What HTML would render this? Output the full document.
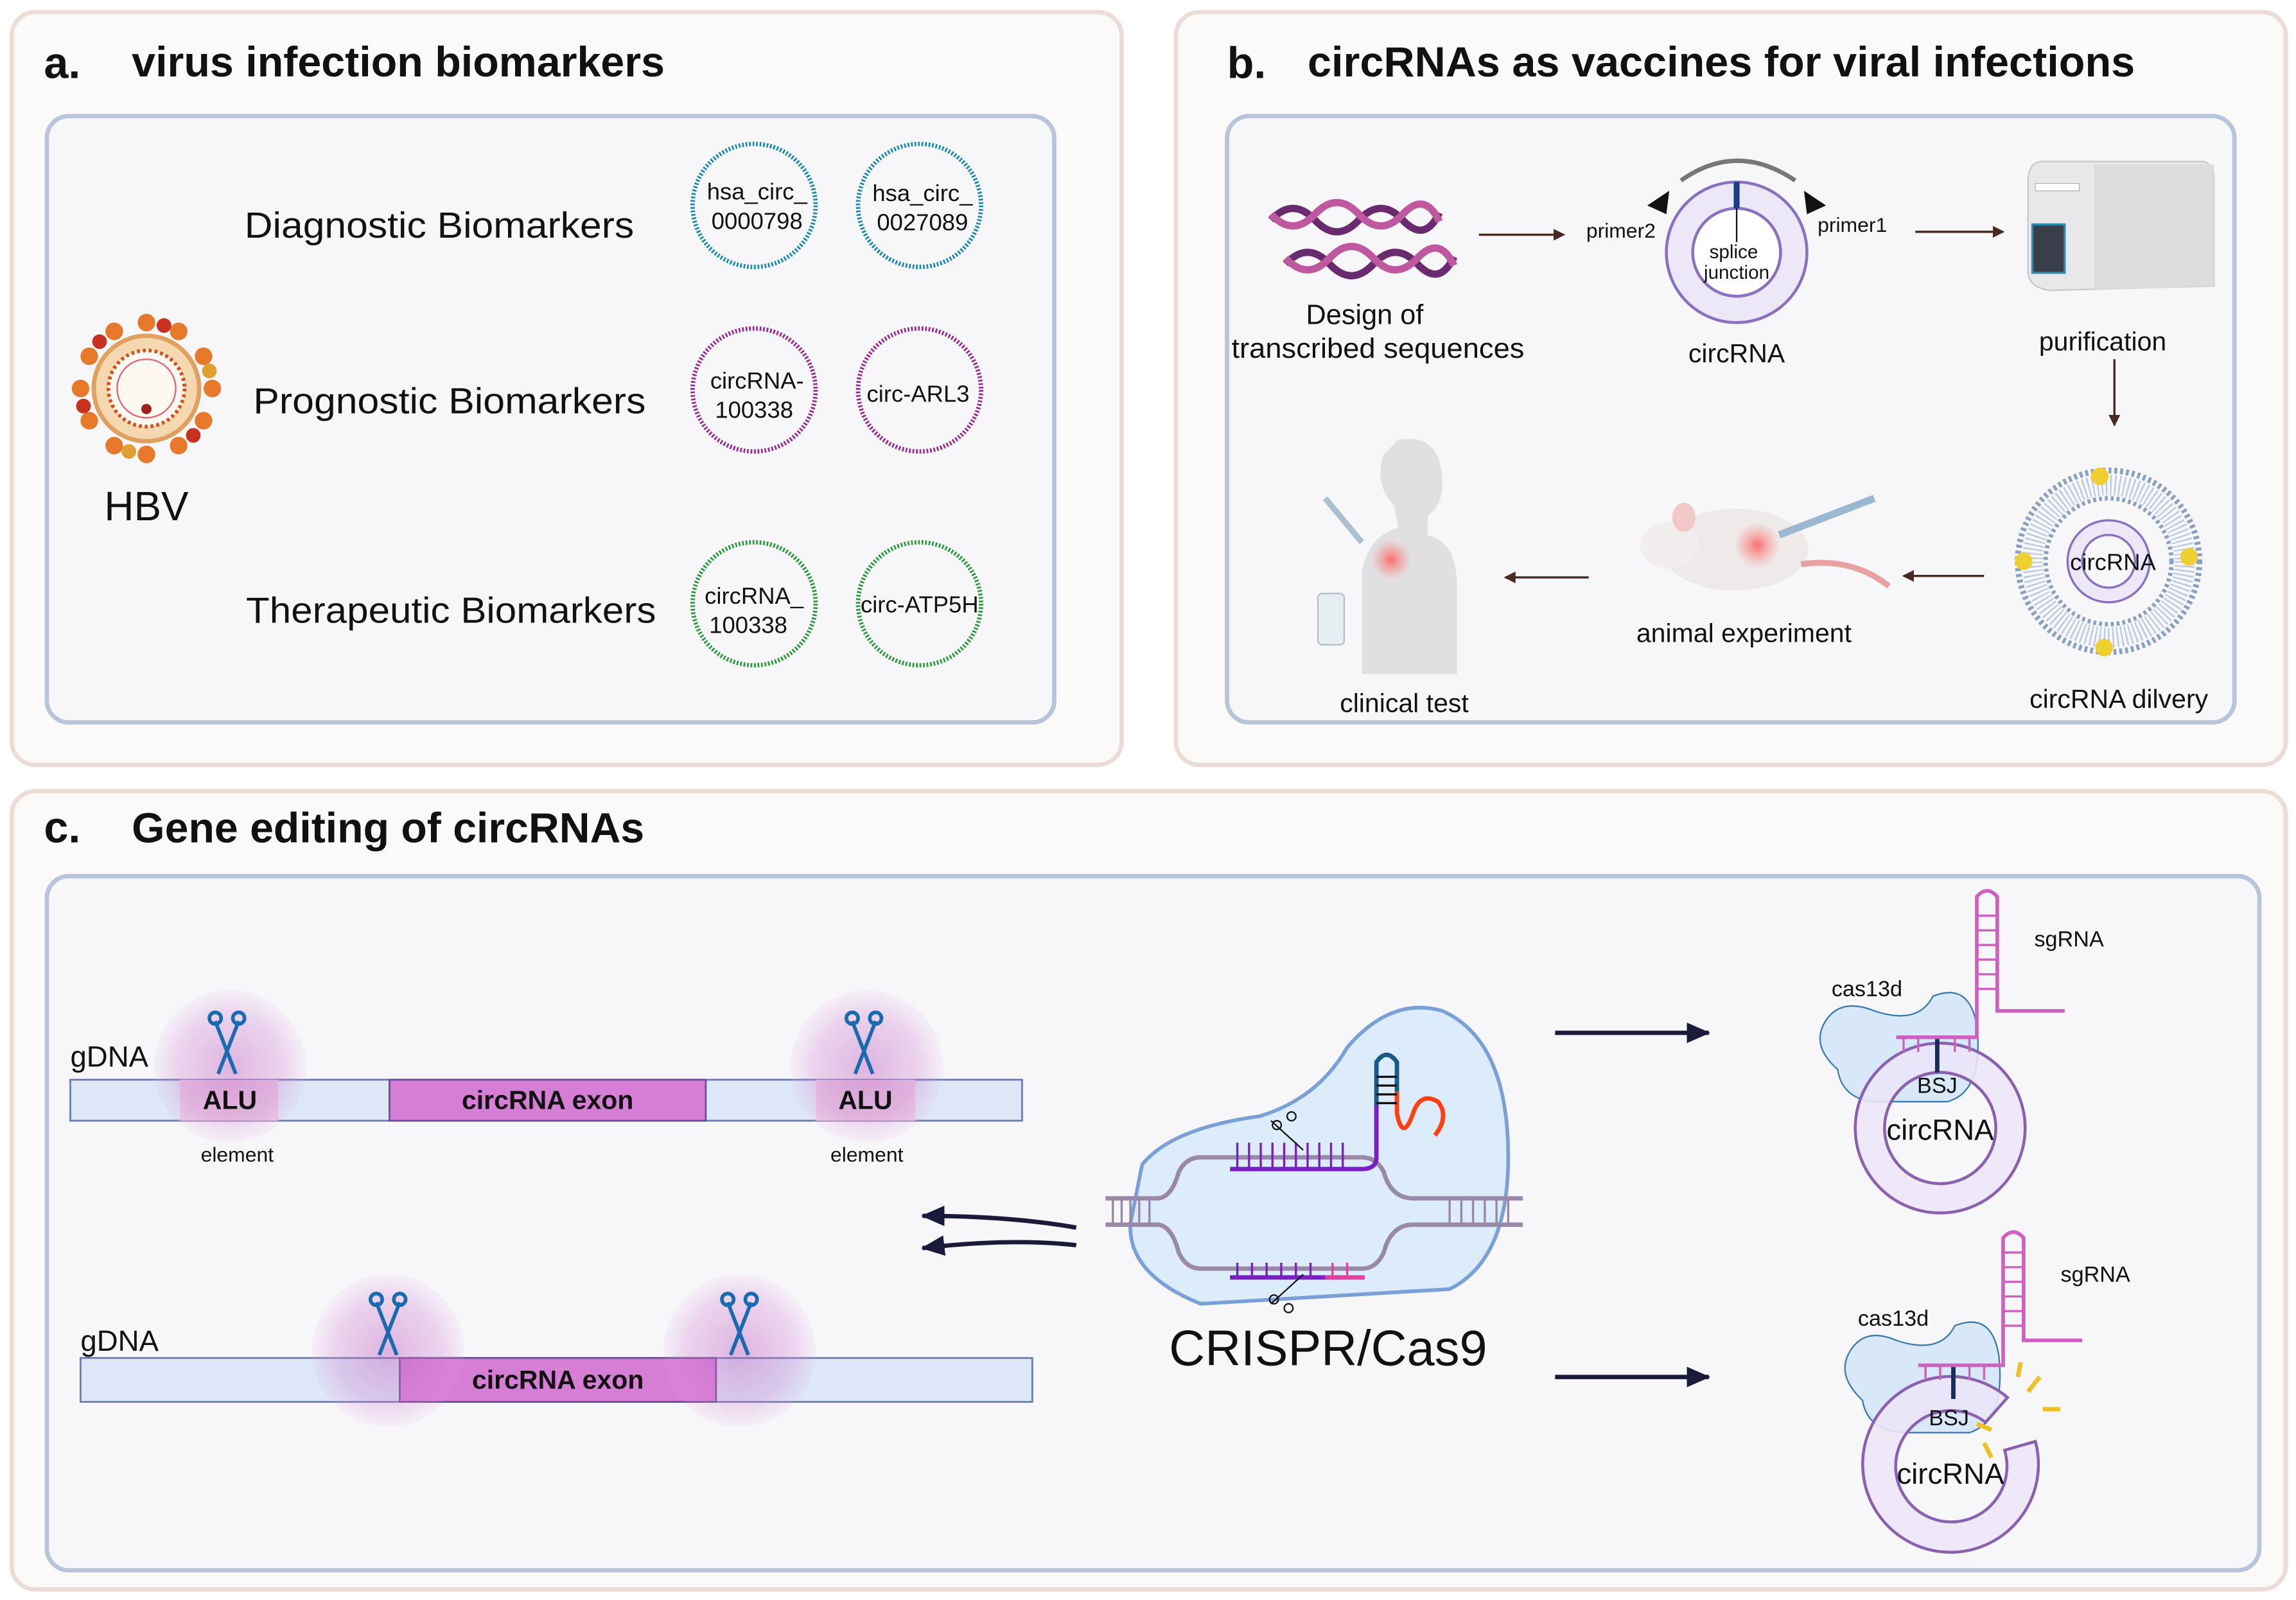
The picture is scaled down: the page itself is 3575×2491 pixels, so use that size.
<!DOCTYPE html>
<html><head><meta charset="utf-8"><style>
html,body{margin:0;padding:0;background:#fff}
svg{display:block}
text{font-family:"Liberation Sans",sans-serif;fill:#111}
</style></head><body>
<svg width="3575" height="2491" viewBox="0 0 1568 1092" xmlns="http://www.w3.org/2000/svg">
<defs>
<radialGradient id="glow"><stop offset="0" stop-color="#c060c0" stop-opacity="0.45"/><stop offset="0.7" stop-color="#d080d0" stop-opacity="0.3"/><stop offset="1" stop-color="#e0a0e0" stop-opacity="0.1"/></radialGradient>
<radialGradient id="red"><stop offset="0" stop-color="#ff5050" stop-opacity="0.8"/><stop offset="1" stop-color="#ff8080" stop-opacity="0"/></radialGradient>
<marker id="ab" markerWidth="8" markerHeight="8" refX="7" refY="4" orient="auto" markerUnits="userSpaceOnUse"><path d="M0,0 L8,4 L0,8z" fill="#4a2a20"/></marker>
<marker id="an" markerWidth="16" markerHeight="14" refX="15" refY="7" orient="auto" markerUnits="userSpaceOnUse"><path d="M0,0 L16,7 L0,14z" fill="#1a1a3a"/></marker>
</defs>
<rect width="1568" height="1092" fill="#fff"/>
<!-- panel a -->
<rect x="8" y="8" width="758" height="514" rx="16" fill="#fcfaf9" stroke="#ecdcd8" stroke-width="3"/>
<rect x="32" y="79" width="688" height="414" rx="15" fill="#f7f7fa" stroke="#b8c4dc" stroke-width="3"/>
<text x="30" y="53" font-size="30" font-weight="bold">a.</text>
<text x="90" y="52" font-size="29" font-weight="bold" textLength="364" lengthAdjust="spacingAndGlyphs">virus infection biomarkers</text>
<text x="300" y="162" font-size="25" text-anchor="middle" textLength="266" lengthAdjust="spacingAndGlyphs">Diagnostic Biomarkers</text>
<text x="307" y="282" font-size="25" text-anchor="middle" textLength="268" lengthAdjust="spacingAndGlyphs">Prognostic Biomarkers</text>
<text x="308" y="425" font-size="25" text-anchor="middle" textLength="280" lengthAdjust="spacingAndGlyphs">Therapeutic Biomarkers</text>
<g fill="#f7f7fa" stroke-width="3" stroke-dasharray="1.2 1.2">
<circle cx="515" cy="140" r="42" stroke="#1a8ab0"/><circle cx="628" cy="140" r="42" stroke="#1a8ab0"/>
<circle cx="515" cy="266" r="42" stroke="#9a2a90"/><circle cx="628" cy="266" r="42" stroke="#9a2a90"/>
<circle cx="515" cy="412" r="42" stroke="#2a9a3a"/><circle cx="628" cy="412" r="42" stroke="#2a9a3a"/>
</g>
<g font-size="16" text-anchor="middle">
<text x="517" y="136">hsa_circ_</text><text x="517" y="156">0000798</text>
<text x="630" y="137">hsa_circ_</text><text x="630" y="157">0027089</text>
<text x="517" y="265">circRNA-</text><text x="515" y="285">100338</text>
<text x="627" y="274">circ-ARL3</text>
<text x="515" y="412">circRNA_</text><text x="511" y="432">100338</text>
<text x="628" y="418">circ-ATP5H</text>
</g>
<!-- HBV -->
<g transform="translate(100,265)">
<g fill="#e8782a">
<circle cx="0" cy="-45" r="6"/><circle cx="22" cy="-39" r="6"/><circle cx="39" cy="-22" r="6"/><circle cx="45" cy="0" r="6"/><circle cx="39" cy="22" r="6"/><circle cx="22" cy="39" r="6"/><circle cx="0" cy="45" r="6"/><circle cx="-22" cy="39" r="6"/><circle cx="-39" cy="22" r="6"/><circle cx="-45" cy="0" r="6"/><circle cx="-39" cy="-22" r="6"/><circle cx="-22" cy="-39" r="6"/>
<circle cx="12" cy="-43" r="5" fill="#c83020"/><circle cx="43" cy="-12" r="5" fill="#e0a030"/><circle cx="-43" cy="12" r="5" fill="#c83020"/><circle cx="-12" cy="43" r="5" fill="#e0a030"/><circle cx="32" cy="32" r="5" fill="#c83020"/><circle cx="-32" cy="-32" r="5" fill="#c83020"/>
</g>
<circle r="36" fill="#f6d8b0" stroke="#e0a060" stroke-width="3"/>
<circle r="26" fill="#fdf8f0" stroke="#d05020" stroke-width="2.5" stroke-dasharray="2 2"/>
<circle r="20" fill="none" stroke="#e06080" stroke-width="1"/>
<circle cx="0" cy="14" r="3.5" fill="#a02020"/>
</g>
<text x="100" y="355" font-size="28" text-anchor="middle">HBV</text>

<!-- panel b -->
<rect x="803" y="8" width="758" height="514" rx="16" fill="#fcfaf9" stroke="#ecdcd8" stroke-width="3"/>
<rect x="838" y="79" width="688" height="414" rx="15" fill="#f7f7fa" stroke="#b8c4dc" stroke-width="3"/>
<text x="838" y="53" font-size="30" font-weight="bold">b.</text>
<text x="893" y="52" font-size="29" font-weight="bold" textLength="565" lengthAdjust="spacingAndGlyphs">circRNAs as vaccines for viral infections</text>
<g fill="none" stroke-width="5">
<path d="M868,150 q15,-16 30,0 t30,0 t30,0 t25,-5" stroke="#6a2a70"/>
<path d="M868,146 q15,16 30,0 t30,0 t30,0 t25,5" stroke="#c058a0"/>
<path d="M878,180 q15,-16 30,0 t30,0 t30,0 t25,-5" stroke="#6a2a70"/>
<path d="M878,176 q15,16 30,0 t30,0 t30,0 t25,5" stroke="#c058a0"/>
</g>
<text x="932" y="221" font-size="19" text-anchor="middle">Design of</text>
<text x="941" y="244" font-size="19" text-anchor="middle" textLength="200" lengthAdjust="spacingAndGlyphs">transcribed sequences</text>
<g stroke="#4a2a20" stroke-width="1.5" marker-end="url(#ab)">
<line x1="1010" y1="160" x2="1068" y2="160"/>
<line x1="1308" y1="158" x2="1368" y2="158"/>
<line x1="1444" y1="245" x2="1444" y2="290"/>
<line x1="1355" y1="393" x2="1300" y2="393"/>
<line x1="1085" y1="394" x2="1028" y2="394"/>
</g>
<circle cx="1186" cy="172" r="39" fill="none" stroke="#ece8f8" stroke-width="18"/>
<circle cx="1186" cy="172" r="48" fill="none" stroke="#8a70c0" stroke-width="2"/>
<circle cx="1186" cy="172" r="30" fill="#fff" stroke="#8a70c0" stroke-width="2"/>
<line x1="1186" y1="124" x2="1186" y2="142" stroke="#1a3a8a" stroke-width="4"/>
<line x1="1186" y1="142" x2="1186" y2="165" stroke="#111" stroke-width="1"/>
<path d="M1148,123 Q1186,96 1226,123" fill="none" stroke="#777" stroke-width="3"/>
<path d="M1125,140 L1140,130 L1138,146z" fill="#111"/><path d="M1247,140 L1232,130 L1234,146z" fill="#111"/>
<text x="1107" y="162" font-size="14" text-anchor="middle">primer2</text>
<text x="1265" y="158" font-size="14" text-anchor="middle">primer1</text>
<text x="1184" y="176" font-size="13" text-anchor="middle">splice</text>
<text x="1186" y="190" font-size="13" text-anchor="middle">junction</text>
<text x="1186" y="247" font-size="18" text-anchor="middle">circRNA</text>
<!-- machine -->
<path d="M1395,110 L1505,110 Q1512,112 1512,122 L1512,195 L1400,198 Q1385,196 1385,185 L1385,122 Q1386,110 1395,110z" fill="#e8e8ea" stroke="#c8c8cc"/>
<path d="M1430,112 L1512,112 L1512,195 L1430,198z" fill="#dcdcdf"/>
<rect x="1388" y="153" width="22" height="33" fill="#3a3e48" stroke="#2a8ab0" stroke-width="1.5"/>
<rect x="1390" y="125" width="30" height="5" fill="#fff" stroke="#aaa" stroke-width="0.5"/>
<text x="1436" y="239" font-size="18" text-anchor="middle">purification</text>
<!-- LNP -->
<circle cx="1440" cy="383" r="62" fill="none" stroke="#8aa0c0" stroke-width="4" stroke-dasharray="2 2"/>
<circle cx="1440" cy="383" r="52" fill="none" stroke="#b8c8e0" stroke-width="14" stroke-dasharray="1 2"/>
<circle cx="1440" cy="383" r="43" fill="none" stroke="#8aa0c0" stroke-width="3" stroke-dasharray="2 2"/>
<circle cx="1440" cy="383" r="28" fill="#ece8f8" stroke="#8a70c0" stroke-width="1.5"/>
<circle cx="1440" cy="383" r="18" fill="#f7f7fa" stroke="#8a70c0" stroke-width="1.5"/>
<g fill="#f0d030"><circle cx="1434" cy="325" r="6"/><circle cx="1437" cy="442" r="6"/><circle cx="1382" cy="383" r="6"/><circle cx="1495" cy="380" r="6"/></g>
<text x="1443" y="389" font-size="16" text-anchor="middle">circRNA</text>
<text x="1447" y="483" font-size="18" text-anchor="middle">circRNA dilvery</text>
<!-- mouse -->
<ellipse cx="1185" cy="375" rx="50" ry="28" fill="#eeeaea"/>
<ellipse cx="1140" cy="372" rx="20" ry="16" fill="#f2eeee"/>
<ellipse cx="1150" cy="353" rx="8" ry="10" fill="#f0c8c8"/>
<circle cx="1200" cy="372" r="16" fill="url(#red)"/>
<path d="M1230,385 Q1265,380 1290,400" fill="none" stroke="#e8a0a0" stroke-width="4"/>
<line x1="1215" y1="365" x2="1280" y2="340" stroke="#9ab8d0" stroke-width="5"/>
<text x="1191" y="438" font-size="18" text-anchor="middle">animal experiment</text>
<!-- human -->
<path d="M955,300 Q985,295 985,330 Q985,345 975,352 L975,365 Q995,370 995,400 L995,460 L930,460 L930,390 Q935,365 955,360 L952,345 Q938,330 945,310z" fill="#e0e0e2"/>
<circle cx="950" cy="382" r="14" fill="url(#red)"/>
<line x1="905" y1="340" x2="930" y2="370" stroke="#aac0d0" stroke-width="4"/>
<rect x="900" y="405" width="18" height="35" rx="3" fill="#e6eef2" stroke="#b0c0c8"/>
<text x="959" y="486" font-size="18" text-anchor="middle">clinical test</text>

<!-- panel c -->
<rect x="8" y="540" width="1553" height="545" rx="16" fill="#fcfaf9" stroke="#ecdcd8" stroke-width="3"/>
<rect x="32" y="598" width="1511" height="474" rx="15" fill="#f7f7fa" stroke="#b8c4dc" stroke-width="3"/>
<text x="30" y="575" font-size="30" font-weight="bold">c.</text>
<text x="90" y="575" font-size="29" font-weight="bold" textLength="350" lengthAdjust="spacingAndGlyphs">Gene editing of circRNAs</text>
<!-- top gDNA -->
<rect x="48" y="737" width="650" height="28" fill="#dde7f7" stroke="#6a7ab0" stroke-width="1.2"/>
<rect x="266" y="737" width="216" height="28" fill="#d67ed6" stroke="#6a4a9a" stroke-width="1.2"/>
<rect x="123" y="737" width="67" height="28" fill="#e8c8e4"/>
<rect x="557" y="737" width="68" height="28" fill="#e8c8e4"/>
<circle cx="157" cy="728" r="52" fill="url(#glow)"/><circle cx="592" cy="728" r="52" fill="url(#glow)"/>
<text x="374" y="757" font-size="18" font-weight="bold" text-anchor="middle" fill="#5a1a6a">circRNA exon</text>
<text x="157" y="757" font-size="18" font-weight="bold" text-anchor="middle" fill="#6a3a7a">ALU</text>
<text x="591" y="757" font-size="18" font-weight="bold" text-anchor="middle" fill="#6a3a7a">ALU</text>
<text x="48" y="728" font-size="20">gDNA</text>
<text x="162" y="793" font-size="14" text-anchor="middle">element</text>
<text x="592" y="793" font-size="14" text-anchor="middle">element</text>
<!-- bottom gDNA -->
<rect x="55" y="927" width="650" height="30" fill="#dde7f7" stroke="#6a7ab0" stroke-width="1.2"/>
<rect x="273" y="927" width="216" height="30" fill="#d67ed6" stroke="#6a4a9a" stroke-width="1.2"/>
<circle cx="265" cy="922" r="52" fill="url(#glow)"/><circle cx="505" cy="922" r="52" fill="url(#glow)"/>
<text x="381" y="948" font-size="18" font-weight="bold" text-anchor="middle" fill="#5a1a6a">circRNA exon</text>
<text x="55" y="922" font-size="20">gDNA</text>
<!-- scissors -->
<g stroke="#1a6ab0" stroke-width="2.5" fill="none">
<g transform="translate(155,715)"><line x1="-8" y1="-18" x2="6" y2="18"/><line x1="8" y1="-18" x2="-6" y2="18"/><circle cx="-8" cy="-20" r="4"/><circle cx="8" cy="-20" r="4"/></g>
<g transform="translate(590,715)"><line x1="-8" y1="-18" x2="6" y2="18"/><line x1="8" y1="-18" x2="-6" y2="18"/><circle cx="-8" cy="-20" r="4"/><circle cx="8" cy="-20" r="4"/></g>
<g transform="translate(265,907)"><line x1="-8" y1="-18" x2="6" y2="18"/><line x1="8" y1="-18" x2="-6" y2="18"/><circle cx="-8" cy="-20" r="4"/><circle cx="8" cy="-20" r="4"/></g>
<g transform="translate(505,907)"><line x1="-8" y1="-18" x2="6" y2="18"/><line x1="8" y1="-18" x2="-6" y2="18"/><circle cx="-8" cy="-20" r="4"/><circle cx="8" cy="-20" r="4"/></g>
</g>
<!-- double arrow -->
<path d="M735,838 Q690,830 630,830" fill="none" stroke="#1a1a3a" stroke-width="3" marker-end="url(#an)"/>
<path d="M735,850 Q690,845 630,852" fill="none" stroke="#1a1a3a" stroke-width="3" marker-end="url(#an)"/>
<!-- CRISPR blob -->
<path d="M780,795 Q800,770 860,762 Q900,750 920,715 Q950,680 985,690 Q1030,710 1030,790 Q1030,860 990,880 L820,890 Q770,870 772,835z" fill="#dcecfb" stroke="#7aa0d8" stroke-width="2.5"/>
<path d="M755,818 L790,818 Q800,818 805,800 Q810,790 820,790 L930,790 Q940,790 945,800 Q950,818 965,818 L1040,818" fill="none" stroke="#9a88a8" stroke-width="3"/>
<path d="M755,836 L790,836 Q800,836 805,855 Q810,866 820,866 L930,866 Q940,866 945,855 Q950,836 965,836 L1040,836" fill="none" stroke="#9a88a8" stroke-width="3"/>
<g stroke="#9a88a8" stroke-width="1.5"><line x1="760" y1="818" x2="760" y2="836"/><line x1="766" y1="818" x2="766" y2="836"/><line x1="772" y1="818" x2="772" y2="836"/><line x1="778" y1="818" x2="778" y2="836"/><line x1="785" y1="818" x2="785" y2="836"/><line x1="990" y1="818" x2="990" y2="836"/><line x1="998" y1="818" x2="998" y2="836"/><line x1="1006" y1="818" x2="1006" y2="836"/><line x1="1014" y1="818" x2="1014" y2="836"/><line x1="1022" y1="818" x2="1022" y2="836"/><line x1="1030" y1="818" x2="1030" y2="836"/></g>
<path d="M840,798 L930,798 Q940,798 940,790 L940,755" fill="none" stroke="#7a20c0" stroke-width="3"/>
<g stroke="#7a20c0" stroke-width="1.5"><line x1="845" y1="780" x2="845" y2="798"/><line x1="853" y1="780" x2="853" y2="798"/><line x1="861" y1="780" x2="861" y2="798"/><line x1="869" y1="780" x2="869" y2="798"/><line x1="877" y1="780" x2="877" y2="798"/><line x1="885" y1="780" x2="885" y2="798"/><line x1="893" y1="780" x2="893" y2="798"/><line x1="901" y1="780" x2="901" y2="798"/><line x1="909" y1="780" x2="909" y2="798"/><line x1="917" y1="780" x2="917" y2="798"/></g>
<path d="M840,872 L915,872" stroke="#7a20c0" stroke-width="3"/><path d="M905,872 L932,872" stroke="#e040a0" stroke-width="3"/>
<g stroke="#7a20c0" stroke-width="1.5"><line x1="845" y1="862" x2="845" y2="872"/><line x1="855" y1="862" x2="855" y2="872"/><line x1="865" y1="862" x2="865" y2="872"/><line x1="875" y1="862" x2="875" y2="872"/><line x1="885" y1="862" x2="885" y2="872"/><line x1="895" y1="862" x2="895" y2="872"/><line x1="910" y1="862" x2="910" y2="872" stroke="#e040a0"/><line x1="920" y1="862" x2="920" y2="872" stroke="#e040a0"/></g>
<path d="M940,755 L940,725 Q947,715 954,725 L954,755" fill="none" stroke="#1a5a8a" stroke-width="3"/>
<path d="M954,745 L954,760 Q958,780 965,760 Q970,745 982,752 Q990,762 980,775" fill="none" stroke="#ff4010" stroke-width="3"/>
<g stroke="#111" stroke-width="1.5"><line x1="940" y1="735" x2="954" y2="735"/><line x1="940" y1="741" x2="954" y2="741"/><line x1="940" y1="747" x2="954" y2="747"/><line x1="940" y1="753" x2="954" y2="753"/></g>
<g stroke="#111" stroke-width="1" fill="none"><line x1="868" y1="765" x2="890" y2="785"/><circle cx="872" cy="768" r="3"/><circle cx="882" cy="762" r="3"/><line x1="868" y1="890" x2="890" y2="870"/><circle cx="870" cy="887" r="3"/><circle cx="880" cy="893" r="3"/></g>
<text x="907" y="932" font-size="34" text-anchor="middle">CRISPR/Cas9</text>
<!-- right arrows -->
<line x1="1062" y1="705" x2="1167" y2="705" stroke="#1a1a3a" stroke-width="3" marker-end="url(#an)"/>
<line x1="1062" y1="940" x2="1167" y2="940" stroke="#1a1a3a" stroke-width="3" marker-end="url(#an)"/>
<!-- top circRNA -->
<path d="M1245,700 Q1255,680 1280,690 Q1310,700 1320,680 Q1345,670 1350,700 Q1355,745 1330,752 L1280,752 Q1258,750 1255,730 Q1238,715 1245,700z" fill="#cfe4f7" fill-opacity="0.8" stroke="#3a7ab0" stroke-width="1"/>
<circle cx="1325" cy="770" r="48" fill="none" stroke="#ece6f8" stroke-width="20" stroke-opacity="0.9"/>
<circle cx="1325" cy="770" r="58" fill="none" stroke="#8a60b0" stroke-width="2"/>
<circle cx="1325" cy="770" r="38" fill="none" stroke="#8a60b0" stroke-width="2"/>
<line x1="1323" y1="708" x2="1323" y2="732" stroke="#1a2a5a" stroke-width="3"/>
<path d="M1295,708 L1350,708 L1350,612 Q1357,604 1364,612 L1364,690 L1410,690" fill="none" stroke="#d060c0" stroke-width="2.5"/>
<g stroke="#d060c0" stroke-width="1.5"><line x1="1350" y1="625" x2="1364" y2="625"/><line x1="1350" y1="635" x2="1364" y2="635"/><line x1="1350" y1="645" x2="1364" y2="645"/><line x1="1350" y1="655" x2="1364" y2="655"/><line x1="1350" y1="665" x2="1364" y2="665"/><line x1="1350" y1="675" x2="1364" y2="675"/><line x1="1300" y1="708" x2="1300" y2="718"/><line x1="1310" y1="708" x2="1310" y2="718"/><line x1="1335" y1="708" x2="1335" y2="718"/><line x1="1345" y1="708" x2="1345" y2="718"/></g>
<text x="1413" y="646" font-size="15" text-anchor="middle">sgRNA</text>
<text x="1275" y="680" font-size="15" text-anchor="middle">cas13d</text>
<text x="1323" y="746" font-size="15" text-anchor="middle">BSJ</text>
<text x="1325" y="778" font-size="20" text-anchor="middle">circRNA</text>
<!-- bottom circRNA -->
<path d="M1262,925 Q1272,905 1295,915 Q1325,925 1335,905 Q1360,895 1365,925 Q1370,970 1345,978 L1300,978 Q1275,976 1272,956 Q1255,940 1262,925z" fill="#cfe4f7" fill-opacity="0.8" stroke="#3a7ab0" stroke-width="1"/>
<path d="M1390,984 A60,60 0 1 1 1371,954 L1356,971 A38,38 0 1 0 1369,990 Z" fill="#ece6f8" fill-opacity="0.9" stroke="#8a60b0" stroke-width="2"/>
<line x1="1334" y1="932" x2="1334" y2="955" stroke="#1a2a5a" stroke-width="3"/>
<path d="M1310,932 L1368,932 L1368,845 Q1375,837 1382,845 L1382,915 L1422,915" fill="none" stroke="#d060c0" stroke-width="2.5"/>
<g stroke="#d060c0" stroke-width="1.5"><line x1="1368" y1="855" x2="1382" y2="855"/><line x1="1368" y1="865" x2="1382" y2="865"/><line x1="1368" y1="875" x2="1382" y2="875"/><line x1="1368" y1="885" x2="1382" y2="885"/><line x1="1368" y1="895" x2="1382" y2="895"/><line x1="1368" y1="905" x2="1382" y2="905"/><line x1="1315" y1="932" x2="1315" y2="942"/><line x1="1325" y1="932" x2="1325" y2="942"/><line x1="1345" y1="932" x2="1345" y2="942"/><line x1="1355" y1="932" x2="1355" y2="942"/></g>
<g stroke="#f0c020" stroke-width="3"><line x1="1385" y1="950" x2="1393" y2="940"/><line x1="1395" y1="962" x2="1407" y2="962"/><line x1="1350" y1="972" x2="1360" y2="976"/><line x1="1355" y1="985" x2="1360" y2="995"/><line x1="1378" y1="940" x2="1380" y2="930"/></g>
<text x="1431" y="875" font-size="15" text-anchor="middle">sgRNA</text>
<text x="1293" y="905" font-size="15" text-anchor="middle">cas13d</text>
<text x="1331" y="973" font-size="15" text-anchor="middle">BSJ</text>
<text x="1332" y="1013" font-size="20" text-anchor="middle">circRNA</text>
</svg>
</body></html>
